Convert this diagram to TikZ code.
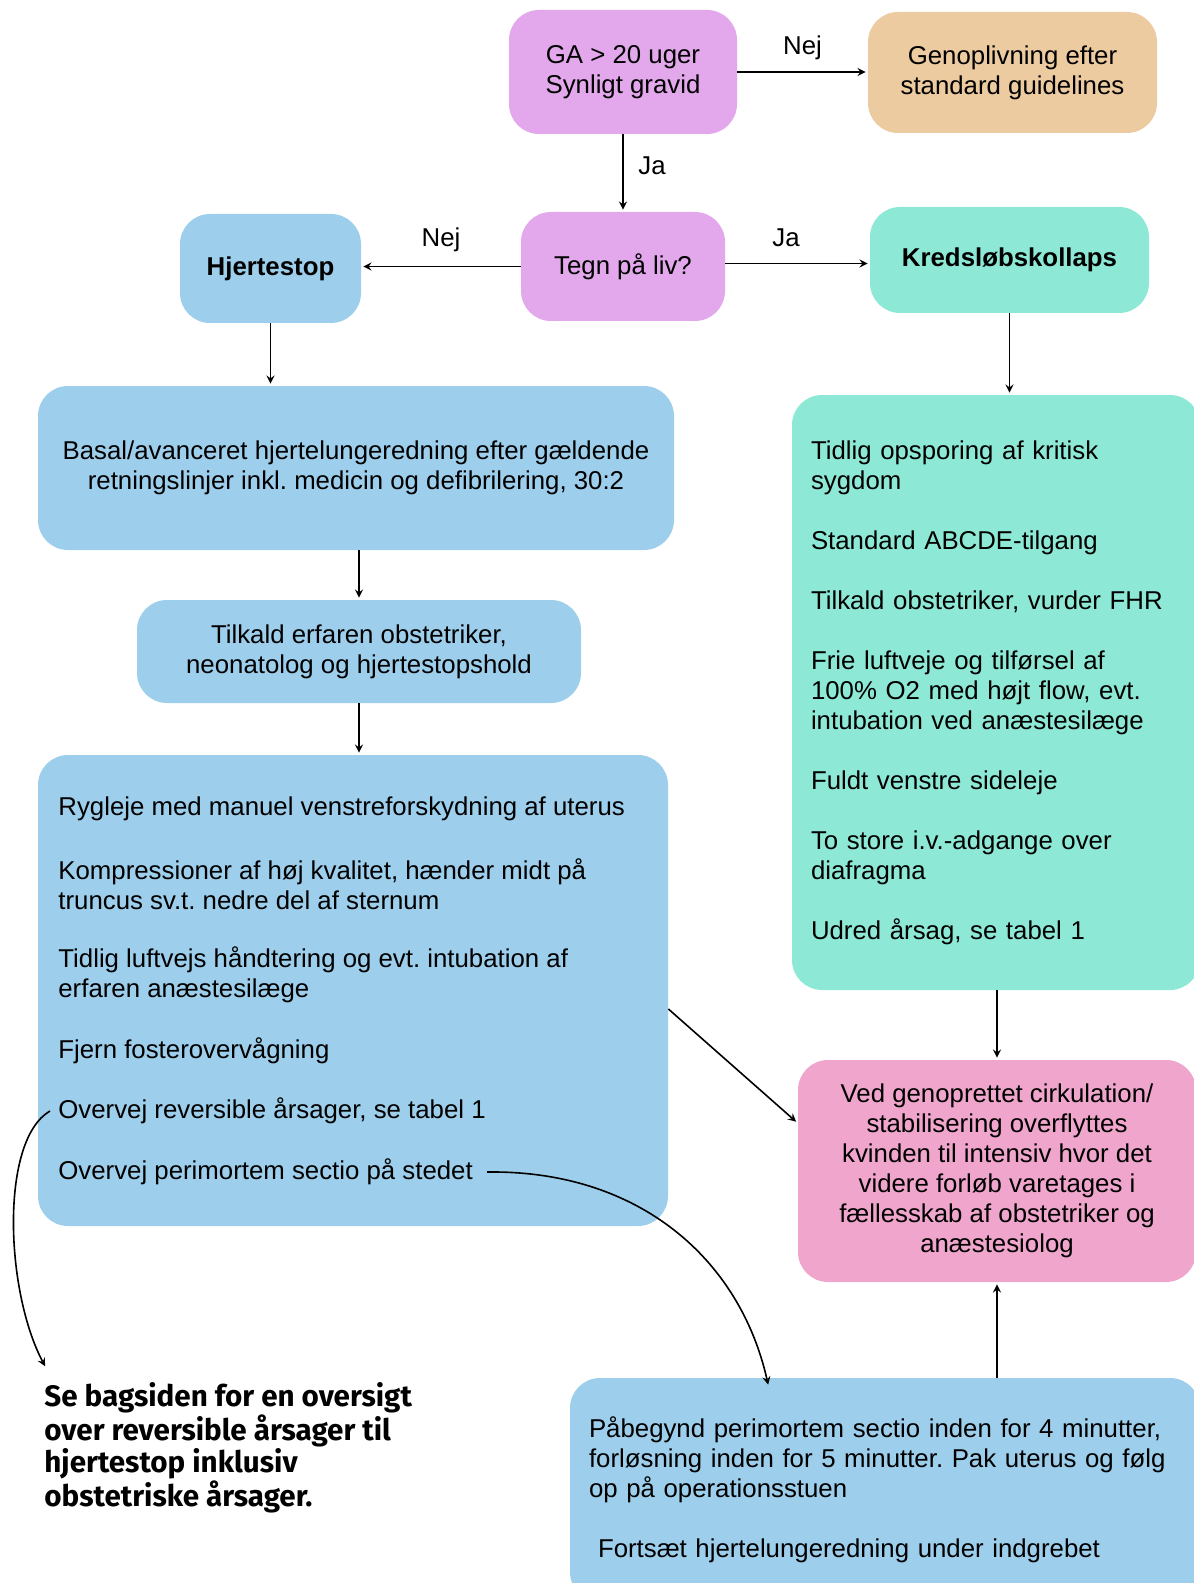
\documentclass[tikz,border=0pt]{standalone}
\usepackage{fontspec}
\setmainfont{Liberation Sans}
\newfontfamily\notefont{Fira Sans}
\usepackage{tikz}
\usetikzlibrary{positioning,arrows}
\definecolor{lilla}{HTML}{E2A8EB}
\definecolor{abrikos}{HTML}{EDCBA0}
\definecolor{hjblaa}{HTML}{9DCEEB}
\definecolor{mint}{HTML}{8DE9D6}
\definecolor{rosa}{HTML}{F0A6CC}
\newcommand{\boxfont}{\fontsize{12.9}{15}\selectfont}
\tikzstyle{box}=[shape=rectangle,rounded corners=15pt,align=center,font=\boxfont]
\tikzstyle{item}=[anchor=west,align=left,inner sep=0pt,font=\boxfont]
\tikzstyle{lbl}=[font=\boxfont]
\tikzstyle{to}=[->,shorten >=1pt,>=stealth,thick]
\frenchspacing

\begin{document}
\begin{tikzpicture}[x=0.5pt,y=-0.5pt]
            \useasboundingbox (0,0) rectangle (1193,1583);
            \node[box,fill=lilla,minimum width=114pt,minimum height=62pt] (GA) at (623,72) {GA > 20 uger\\Synligt gravid};
            \node[box,fill=abrikos,minimum width=144.5pt,minimum height=60.5pt] (gen) at (1012.5,72.5) {Genoplivning efter\\standard guidelines};
            \node[box,fill=lilla,minimum width=102pt,minimum height=54.5pt] (teg) at (623,266.5) {Tegn på liv?};
            \node[box,fill=hjblaa,minimum width=90.5pt,minimum height=54.5pt,font=\boxfont\bfseries] (hjs) at (270.5,268.5) {Hjertestop};
            \node[box,fill=mint,minimum width=139.5pt,minimum height=53pt,font=\boxfont\bfseries] (kred) at (1009.5,260) {Kredsløbskollaps};
            \node[box,fill=hjblaa,minimum width=318pt,minimum height=82pt] (bas) at (356,468) {Basal/avanceret hjertelungeredning efter gældende\\retningslinjer inkl. medicin og defibrilering, 30:2};
            \node[box,fill=hjblaa,minimum width=222pt,minimum height=51.5pt] (til) at (359,651.5) {Tilkald erfaren obstetriker,\\neonatolog og hjertestopshold};
            \node[box,fill=hjblaa,minimum width=315pt,minimum height=235.5pt] (big) at (353,990.5) {};
            \node[item] (rygl) at (58,809) {Rygleje med manuel venstreforskydning af uterus};
            \node[item] (komp) at (58,884) {Kompressioner af høj kvalitet, hænder midt på\\truncus sv.t. nedre del af sternum};
            \node[item] (luft) at (58,975) {Tidlig luftvejs håndtering og evt. intubation af\\erfaren anæstesilæge};
            \node[item] (fjern) at (58,1051) {Fjern fosterovervågning};
            \node[item] (rev) at (58,1111) {Overvej reversible årsager, se tabel 1};
            \node[item] (peri) at (58,1172) {Overvej perimortem sectio på stedet};
            \node[box,fill=mint,align=left,inner xsep=9.5pt,text width=185pt,minimum height=297.5pt] (grn) at (996,692.5) {Tidlig opsporing af kritisk\\sygdom\\[15pt]Standard ABCDE-tilgang\\[15pt]Tilkald obstetriker, vurder FHR\\[15pt]Frie luftveje og tilførsel af\\100\% O2 med højt flow, evt.\\intubation ved anæstesilæge\\[15pt]Fuldt venstre sideleje\\[15pt]To store i.v.-adgange over\\diafragma\\[15pt]Udred årsag, se tabel 1};
            \node[box,fill=rosa,minimum width=199pt,minimum height=111pt] (pnk) at (997,1171) {Ved genoprettet cirkulation/\\stabilisering overflyttes\\kvinden til intensiv hvor det\\videre forløb varetages i\\fællesskab af obstetriker og\\anæstesiolog};
            \node[box,fill=hjblaa,align=left,inner xsep=9.5pt,text width=296pt,minimum height=112pt] (bot) at (885,1490) {Påbegynd perimortem sectio inden for 4 minutter,\\forløsning inden for 5 minutter. Pak uterus og følg\\op på operationsstuen\\[15pt]\hspace{4.5pt}Fortsæt hjertelungeredning under indgrebet};
            \node[anchor=north west,align=left,inner sep=0pt,font=\notefont\bfseries\fontsize{14.8}{16}\selectfont] (bag) at (44,1382) {Se bagsiden for en oversigt\\over reversible årsager til\\hjertestop inklusiv\\obstetriske årsager.};

            \draw[to] (GA.east) -- (GA.east -| gen.west) node[lbl,midway,above=2.5pt] {Nej};
            \draw[to] (GA.south) -- (teg.north) node[lbl,pos=0.4,right=4pt] {Ja};
            \draw[to] (teg.west) -- (teg.west -| hjs.east) node[lbl,midway,above=3.5pt] {Nej};
            \draw[to] ([yshift=1.5pt]teg.east) -- ([yshift=1.5pt]teg.east -| kred.west) node[lbl,pos=0.42,above=4.5pt] {Ja};
            \draw[to] (hjs.south) -- (hjs.south |- bas.north);
            \draw[to] (kred.south) -- (kred.south |- grn.north);
            \draw[to] (bas.south -| til.north) -- (til.north);
            \draw[to] (til.south) -- (til.south |- big.north);
            \draw[to] (grn.south -| pnk.north) -- (pnk.north);
            \draw[to] (bot.north -| pnk.south) -- (pnk.south);
            \draw[to] ([yshift=-9.25pt]big.east) -- ([yshift=24pt]pnk.west);
            \draw[to] ([xshift=-4pt]rev.west) .. controls (0,1140) and (5,1290) .. ([shift={(1pt,7pt)}]bag.north west);
            \draw[to] ([xshift=7pt]peri.east) .. controls (640,1170) and (740,1260) .. ([shift={(99.5pt,-4.5pt)}]bot.north west);
        \end{tikzpicture}
\end{document}
